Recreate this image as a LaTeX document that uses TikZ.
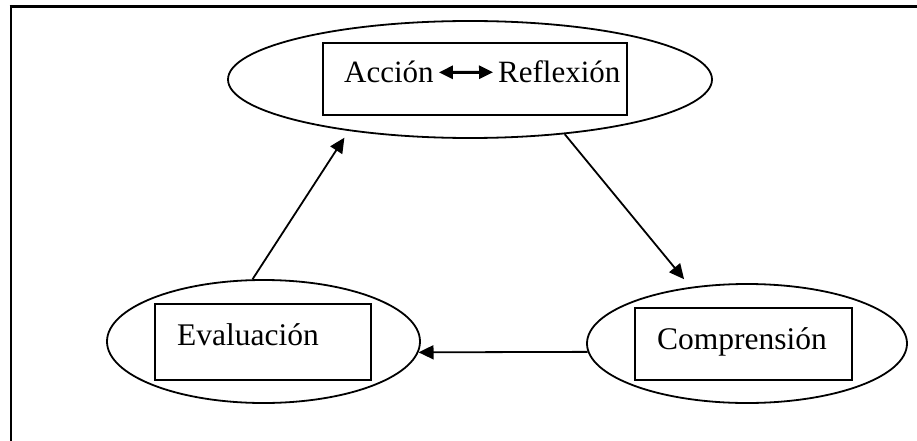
\documentclass[tikz,border=0pt]{standalone}
\usepackage{fontspec}
\setmainfont{Liberation Serif}
\usetikzlibrary{arrows.meta,shapes.geometric}
\tikzset{
  ar/.style={-{Triangle[length=15pt,width=14pt]},line width=1.8pt},
  dbl/.style={{Triangle[length=14pt,width=13pt]}-{Triangle[length=14pt,width=13pt]},line width=3pt,shorten <=5pt,shorten >=5pt},
  oval/.style={draw,ellipse,line width=1.8pt,inner sep=0pt},
  box/.style={draw,line width=1.8pt,inner sep=0pt},
  txt/.style={font=\fontsize{31.5}{38}\selectfont,inner sep=0pt,anchor=base west}
}

\begin{document}
\begin{tikzpicture}[x=1pt,y=-1pt]
\useasboundingbox (0,0) rectangle (917,441);
% frame, top and left side only
\draw[line width=3.5pt] (9.5,6.5) -- (917,6.5);
\draw[line width=2.5pt] (11,5) -- (11,441);
% ovals
\node[oval,minimum width=484pt,minimum height=117pt] (ovalAR) at (470,79.5) {};
\node[oval,minimum width=313pt,minimum height=123pt] (ovalEv) at (263.5,341.5) {};
\node[oval,minimum width=320pt,minimum height=119pt] (ovalCo) at (747,343.5) {};
% boxes
\node[box,minimum width=304pt,minimum height=72pt] (boxAR) at (475,79) {};
\node[box,minimum width=216pt,minimum height=76pt] (boxEv) at (263,342) {};
\node[box,minimum width=217pt,minimum height=72pt] (boxCo) at (743.5,344) {};
% texts
\node[txt,font=\fontsize{31}{38}\selectfont] (accion) at (344,83) {Acción};
\node[txt,font=\fontsize{31}{38}\selectfont] (reflexion) at (498,83) {Reflexión};
\node[txt] (evaluacion) at (177,345) {Evaluación};
\node[txt] (comprension) at (657,349) {Comprensión};
\draw[dbl] (accion.east) -- (reflexion.west);
% cycle
\draw[ar,shorten >=8pt] (ovalEv.100) -- (ovalAR.203);
\draw[ar,shorten >=10pt] (ovalAR.330) -- (ovalCo.135);
\draw[ar] (ovalCo.183) -- (ovalEv.-4);
\end{tikzpicture}
\end{document}
